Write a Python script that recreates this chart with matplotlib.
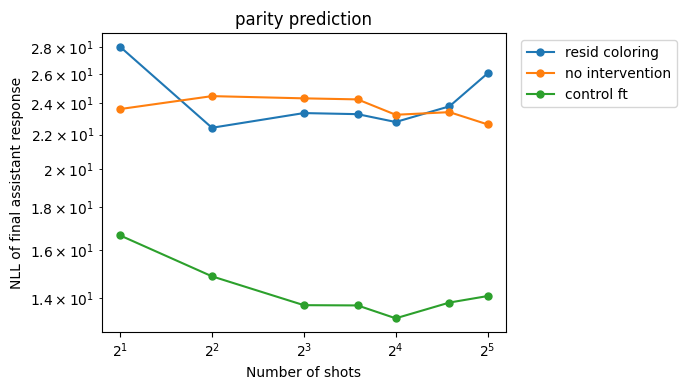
import matplotlib
matplotlib.use("Agg")
import matplotlib.pyplot as plt

shots = [2, 4, 8, 12, 16, 24, 32]
resid_coloring = [28.05, 22.42, 23.35, 23.28, 22.78, 23.79, 26.06]
no_intervention = [23.61, 24.47, 24.32, 24.25, 23.24, 23.41, 22.63]
control_ft = [16.65, 14.87, 13.73, 13.72, 13.24, 13.83, 14.08]

fig, ax = plt.subplots(figsize=(6.87, 3.9), dpi=100)
ax.plot(shots, resid_coloring, marker='o', markersize=5, label='resid coloring')
ax.plot(shots, no_intervention, marker='o', markersize=5, label='no intervention')
ax.plot(shots, control_ft, marker='o', markersize=5, label='control ft')
ax.set_xscale('log', base=2)
ax.set_yscale('log')
ax.set_xlabel('Number of shots')
ax.set_ylabel('NLL of final assistant response')
ax.set_title('parity prediction')
ax.legend(loc='upper left', bbox_to_anchor=(1.02, 1))
fig.subplots_adjust(left=0.148, right=0.7365, top=0.915, bottom=0.149)
fig.savefig('out.png', dpi=100)
